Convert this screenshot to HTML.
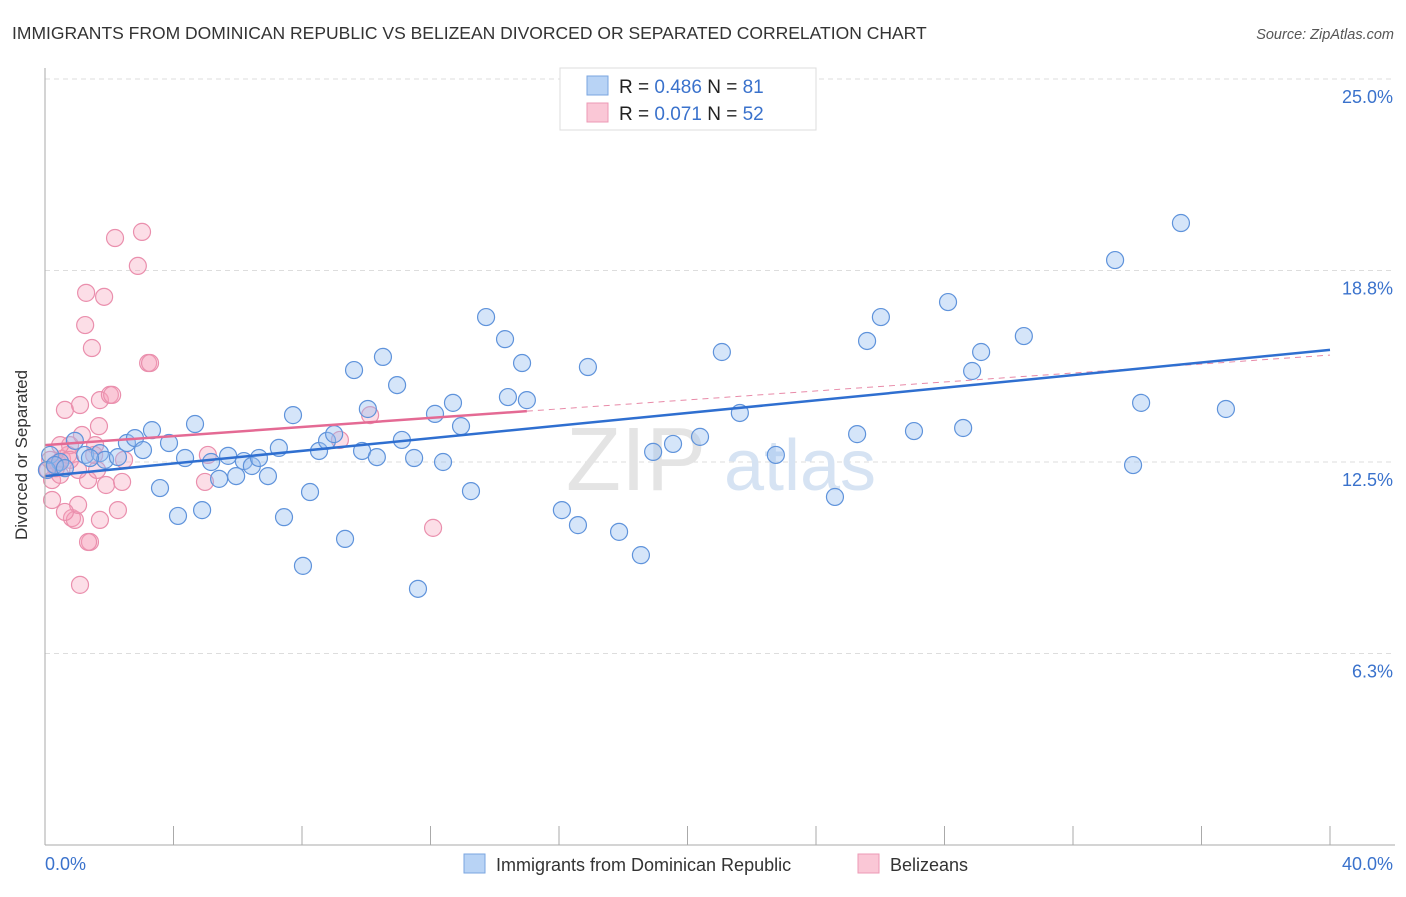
<!DOCTYPE html>
<html><head><meta charset="utf-8"><style>
body{margin:0;background:#fff;font-family:"Liberation Sans",sans-serif}
svg text{font-family:"Liberation Sans",sans-serif}
</style></head><body>
<svg width="1406" height="892" xmlns="http://www.w3.org/2000/svg">
<text x="12" y="39" font-size="17.5" fill="#333">IMMIGRANTS FROM DOMINICAN REPUBLIC VS BELIZEAN DIVORCED OR SEPARATED CORRELATION CHART</text>
<text x="1394" y="39" font-size="14.5" fill="#555" font-style="italic" text-anchor="end">Source: ZipAtlas.com</text>
<g id="grid"></g>
<g><text x="636" y="490" font-size="90" fill="#e4e4e4" font-family="Liberation Serif" text-anchor="middle">ZIP</text><text x="800" y="490" font-size="72" fill="#d6e3f3" text-anchor="middle">atlas</text></g>
<g id="pts"></g>
<g id="trend"></g>
<g id="axes"></g>
<text x="27" y="455" font-size="17" fill="#333" text-anchor="middle" transform="rotate(-90 27 455)">Divorced or Separated</text>
<g>
<rect x="560" y="68" width="256" height="62" fill="#fff" stroke="#ddd"/>
<rect x="587" y="76" width="21" height="19" fill="#b8d3f5" stroke="#7aa6e0"/>
<rect x="587" y="103" width="21" height="19" fill="#fac7d6" stroke="#ec9ab5"/>
<text x="619" y="93" font-size="19" fill="#222">R = <tspan fill="#3a72cc">0.486</tspan>   N =  <tspan fill="#3a72cc">81</tspan></text>
<text x="619" y="120" font-size="19" fill="#222">R =  <tspan fill="#3a72cc">0.071</tspan>   N = <tspan fill="#3a72cc">52</tspan></text>
</g>
<g>
<rect x="464" y="854" width="21" height="19" fill="#b8d3f5" stroke="#7aa6e0"/>
<text x="496" y="871" font-size="18" fill="#333">Immigrants from Dominican Republic</text>
<rect x="858" y="854" width="21" height="19" fill="#fac7d6" stroke="#ec9ab5"/>
<text x="890" y="871" font-size="18" fill="#333">Belizeans</text>
</g>
</svg>
<script>
const yTicks=[25,18.75,12.5,6.25];
const yTickLabels=["25.0%","18.8%","12.5%","6.3%"];
const xTickLabels=["0.0%","40.0%"];
const blueX=[0.16,0.47,0.93,1.25,1.71,1.87,2.27,2.55,2.80,3.05,3.33,3.58,3.86,4.14,4.36,4.67,4.89,5.17,5.42,5.70,5.95,6.19,6.44,6.66,6.94,7.28,7.44,7.72,8.03,8.25,8.53,8.78,9.00,9.34,9.62,9.87,10.05,10.33,10.52,10.96,11.11,11.49,11.61,12.14,12.39,12.70,12.95,13.26,13.73,14.32,14.41,14.85,15.00,16.09,16.59,16.90,17.87,18.55,18.93,19.55,20.39,21.07,21.63,22.75,24.59,25.28,25.59,26.02,27.05,28.11,28.58,28.86,29.14,30.47,33.31,33.87,34.12,35.36,36.76,0.06,0.31,0.62,1.40];
const blueY=[12.73,12.50,13.19,12.73,12.79,12.57,12.66,13.12,13.28,12.89,13.54,11.65,13.12,10.74,12.63,13.74,10.93,12.50,11.95,12.70,12.04,12.53,12.37,12.63,12.04,12.96,10.70,14.03,9.11,11.52,12.86,13.19,13.41,9.99,15.50,12.86,14.23,12.66,15.93,15.01,13.22,12.63,8.36,14.07,12.50,14.43,13.67,11.55,17.23,16.51,14.62,15.73,14.52,10.93,10.44,15.60,10.22,9.46,12.83,13.09,13.32,16.09,14.10,12.73,11.36,13.41,16.45,17.23,13.51,17.72,13.61,15.47,16.09,16.61,19.09,12.40,14.43,20.30,14.23,12.24,12.40,12.30,12.63];
const pinkX=[0.09,0.16,0.22,0.31,0.40,0.53,0.47,0.62,0.72,0.78,0.84,0.93,1.03,1.09,1.15,1.25,1.28,1.34,1.40,1.46,1.56,1.62,1.68,1.71,1.84,1.90,2.02,2.18,2.27,2.40,2.46,2.89,3.02,3.21,3.27,5.07,4.98,9.18,10.12,12.08,0.22,0.47,0.62,1.34,1.71,1.03,1.53,1.09,0.78,0.34,2.09];
const pinkY=[12.24,12.57,11.91,12.40,12.47,12.60,12.08,14.20,12.73,13.05,10.67,10.61,11.10,8.49,13.38,16.97,18.02,11.91,9.89,16.22,13.05,12.24,13.67,14.52,17.89,11.75,14.69,19.81,10.93,11.85,12.57,18.90,20.01,15.73,15.73,12.73,11.85,13.22,14.03,10.35,11.26,13.05,10.87,9.89,10.61,12.24,12.73,14.36,12.57,12.30,14.69];
const blueTrend=[[0,12.04],[40,16.16]];
const pinkTrendSolid=[[0,13.05],[15,14.16]];
const pinkTrendDash=[[15,14.16],[40,15.99]];
const L=45,R=1330,T=79,B=845;
const sx=v=>L+v/40*(R-L), sy=v=>B-v/25*(B-T);
const NS="http://www.w3.org/2000/svg";
function mk(tag,attrs,parent){const e=document.createElementNS(NS,tag);for(const k in attrs)e.setAttribute(k,attrs[k]);parent.appendChild(e);return e;}
const grid=document.getElementById('grid'),axes=document.getElementById('axes'),pts=document.getElementById('pts'),trend=document.getElementById('trend');
yTicks.forEach((t,i)=>{
 const g=mk('line',{x1:L,x2:1395,y1:sy(t),y2:sy(t),stroke:'#ddd','stroke-dasharray':'5,4'},grid);
 
 
 const tx=mk('text',{x:1393,y:sy(t)+24,'font-size':18,fill:'#3a72cc','text-anchor':'end'},axes);
 tx.textContent=yTickLabels[i];
 
 
});
mk('line',{x1:L,x2:L,y1:68,y2:B,stroke:'#aaa'},axes);
mk('line',{x1:L,x2:1395,y1:B,y2:B,stroke:'#aaa'},axes);
for(let i=0;i<=10;i++){const x=sx(i*4);const t=mk('line',{x1:x,x2:x,y1:826,y2:B,stroke:'#aaa'},axes);}
const xl0=mk('text',{x:45,y:870,'font-size':18,fill:'#3a72cc'},axes);xl0.textContent=xTickLabels[0];


const xl1=mk('text',{x:1393,y:870,'font-size':18,fill:'#3a72cc','text-anchor':'end'},axes);xl1.textContent=xTickLabels[1];


pinkX.forEach((v,i)=>{const c=mk('circle',{cx:sx(v),cy:sy(pinkY[i]),r:8.5,fill:'rgba(245,160,185,0.35)',stroke:'#ea8fad','stroke-width':1.2},pts);
 
 });
blueX.forEach((v,i)=>{const c=mk('circle',{cx:sx(v),cy:sy(blueY[i]),r:8.5,fill:'rgba(150,190,240,0.4)',stroke:'#5f93db','stroke-width':1.2},pts);
 
 });
function line(d,attrs,name){const l=mk('line',Object.assign({x1:sx(d[0][0]),y1:sy(d[0][1]),x2:sx(d[1][0]),y2:sy(d[1][1])},attrs),trend);
 
 }
line(pinkTrendDash,{stroke:'#e88aa8','stroke-width':1,'stroke-dasharray':'6,5'},'trend-pink-dashed');
line(blueTrend,{stroke:'#2f6fd0','stroke-width':2.5},'trend-blue');
line(pinkTrendSolid,{stroke:'#e46a94','stroke-width':2.5},'trend-pink');
</script>
</body></html>
